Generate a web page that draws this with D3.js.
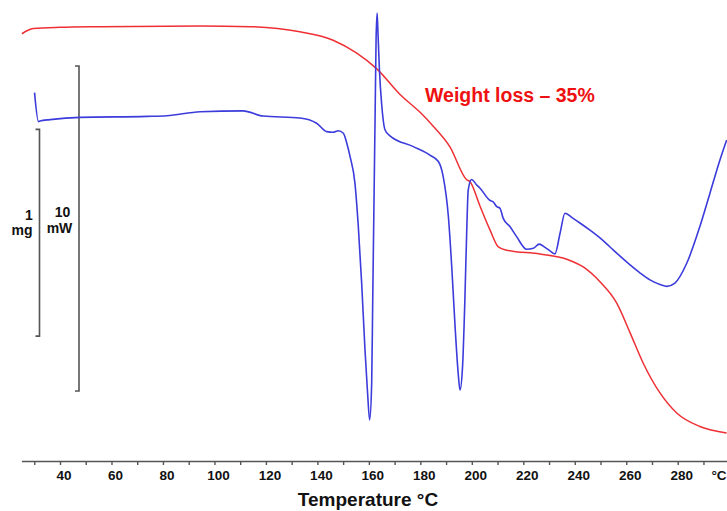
<!DOCTYPE html>
<html>
<head>
<meta charset="utf-8">
<script src="https://cdn.jsdelivr.net/npm/d3@7"></script>
<style>
  html, body { margin: 0; padding: 0; background: #fff; }
  svg { display: block; font-family: "Liberation Sans", Arial, sans-serif; }
</style>
</head>
<body>
<svg id="chart" width="727" height="511"></svg>
<script>
// ---- Data ----
// TG curve: temperature (°C) and weight (%)
const tgTemp = [25.2, 29.6, 40, 55.5, 94.4, 113.8, 133.2, 146.1, 155.3, 163.0, 172.1, 180.0, 185.0, 191.5, 198.0, 199.3, 203.2, 207.1, 210.3, 213.5, 226.5, 236.9, 243.3, 249.8, 256.3, 261.5, 266.6, 273.1, 279.6, 288.6, 299.0];
const tgWeight = [98.8, 99.6, 99.8, 99.9, 100.0, 99.9, 99.1, 97.8, 95.8, 93.4, 89.4, 86.6, 84.5, 81.3, 76.2, 75.9, 72.1, 68.4, 65.8, 65.3, 64.7, 63.9, 62.7, 60.4, 57.1, 52.5, 47.8, 43.2, 40.1, 38.0, 37.0];

// DSC curve: temperature (°C) and heat flow (mW, exo up)
const dscTemp = [30.1, 31.65, 32.2, 36.1, 47.8, 73.7, 81.5, 94.4, 111.1, 118.9, 133.2, 139.7, 143.6, 146.1, 148.1, 150.1, 151.4, 152.7, 154.6, 155.9, 157.2, 158.5, 159.5, 160.3, 161.1, 161.5, 162.0, 162.5, 162.8, 163.2, 163.5, 164.1, 165.0, 166.3, 168.2, 177.3, 183.7, 187.0, 188.9, 190.9, 192.2, 193.5, 194.7, 195.4, 196.4, 197.3, 198.0, 198.6, 199.9, 201.9, 203.2, 207.1, 208.3, 209.7, 210.9, 212.2, 214.8, 217.4, 221.3, 223.9, 226.2, 228.4, 230.4, 232.3, 234.3, 236.2, 239.2, 242.0, 245.9, 249.8, 253.7, 257.6, 261.5, 265.4, 269.2, 273.1, 275.8, 278.9, 283.5, 288.6, 292.5, 296.4, 299.0];
const dscFlow = [0.78, -0.11, -0.09, -0.05, 0.02, 0.05, 0.07, 0.19, 0.22, 0.06, 0.0, -0.16, -0.42, -0.44, -0.39, -0.47, -0.77, -1.19, -2.01, -3.34, -5.08, -7.14, -8.46, -9.29, -8.15, -5.6, -2.52, 0.55, 2.4, 3.23, 2.71, 1.48, 0.4, -0.37, -0.55, -0.88, -1.14, -1.34, -1.81, -3.04, -4.58, -6.42, -7.85, -8.37, -7.65, -5.6, -3.54, -2.22, -1.89, -2.06, -2.16, -2.54, -2.58, -2.73, -2.77, -3.09, -3.34, -3.65, -4.04, -4.01, -3.88, -3.98, -4.09, -4.18, -3.54, -2.93, -3.08, -3.23, -3.45, -3.69, -3.97, -4.25, -4.52, -4.77, -4.98, -5.12, -5.18, -5.08, -4.47, -3.34, -2.32, -1.29, -0.68];

// Axis ticks and labels
const tickValues = [30, 40, 50, 60, 70, 80, 90, 100, 110, 120, 130, 140, 150, 160, 170, 180, 190, 200, 210, 220, 230, 240, 250, 260, 270, 280, 290];
const labelValues = [40, 60, 80, 100, 120, 140, 160, 180, 200, 220, 240, 260, 280];

// Scale bars: 10 mW (DSC) and 1 mg (TG, in % of sample)
const mwBar = [1.6, -8.4];
const mgBar = [84.0, 52.0];

// ---- Drawing ----
const svg = d3.select("#chart");

const x = d3.scaleLinear().domain([25, 300]).range([21.4, 729.2]);
const yW = d3.scaleLinear().domain([100, 0]).range([26, 672]);
const yH = d3.scaleLinear().domain([0, 10]).range([118, -207]);

// x axis
const axisY = 461;
const axis = d3.axisBottom(x)
  .tickValues(tickValues)
  .tickSize(4)
  .tickSizeOuter(0)
  .tickFormat(d => labelValues.includes(d) ? d : "");
const gx = svg.append("g").attr("transform", `translate(0,${axisY})`).call(axis);
gx.select(".domain").attr("stroke", "#555").attr("stroke-width", 1.6);
gx.selectAll(".tick line").attr("stroke", "#555").attr("stroke-width", 1.4);
gx.selectAll(".tick text")
  .attr("y", 19).attr("dy", 0).attr("x", 3.5)
  .attr("fill", "#111")
  .style("font-size", "13.5px").style("font-weight", "bold")
  .style("font-family", "'Liberation Sans', Arial, sans-serif");

svg.append("text").attr("x", 719).attr("y", axisY + 19)
  .attr("text-anchor", "middle").attr("fill", "#111")
  .style("font-size", "13.5px").style("font-weight", "bold")
  .text("°C");

svg.append("text").attr("x", 368).attr("y", 506)
  .attr("text-anchor", "middle").attr("fill", "#111")
  .style("font-size", "19px").style("font-weight", "bold")
  .text("Temperature °C");

// scale bars
function bracket(xPos, y1, y2) {
  const p = d3.path();
  p.moveTo(xPos - 4, y1); p.lineTo(xPos, y1); p.lineTo(xPos, y2); p.lineTo(xPos - 4, y2);
  svg.append("path").attr("d", p.toString()).attr("fill", "none")
    .attr("stroke", "#555").attr("stroke-width", 1.6);
}
bracket(79, yH(mwBar[0]), yH(mwBar[1]));
bracket(39.5, yW(mgBar[0]), yW(mgBar[1]));

const barTxt = svg.append("g").attr("fill", "#111")
  .style("font-size", "14px").style("font-weight", "bold");
barTxt.append("text").attr("x", 29).attr("y", 220).attr("text-anchor", "middle").text("1");
barTxt.append("text").attr("x", 22).attr("y", 235).attr("text-anchor", "middle").text("mg");
barTxt.append("text").attr("x", 62.5).attr("y", 217).attr("text-anchor", "middle").text("10");
barTxt.append("text").attr("x", 59.5).attr("y", 233).attr("text-anchor", "middle").text("mW");

// TG curve
const tgData = tgTemp.map((t, i) => ({ t, v: tgWeight[i] }));
svg.append("path").datum(tgData)
  .attr("fill", "none").attr("stroke", "#ee3035").attr("stroke-width", 1.5)
  .attr("d", d3.line().x(d => x(d.t)).y(d => yW(d.v)).curve(d3.curveMonotoneX));

// DSC curve
const dscData = dscTemp.map((t, i) => ({ t, v: dscFlow[i] }));
svg.append("path").datum(dscData)
  .attr("fill", "none").attr("stroke", "#3c3cdc").attr("stroke-width", 1.6)
  .attr("stroke-linejoin", "round")
  .attr("d", d3.line().x(d => x(d.t)).y(d => yH(d.v)).curve(d3.curveMonotoneX));

// annotation
svg.append("text").attr("x", 425).attr("y", 102)
  .attr("fill", "#ee1111")
  .style("font-size", "19.5px").style("font-weight", "bold")
  .text("Weight loss – 35%");
</script>
</body>
</html>
